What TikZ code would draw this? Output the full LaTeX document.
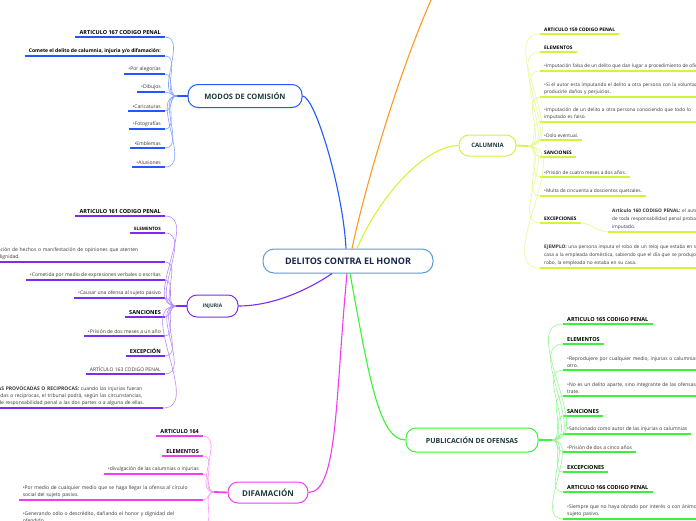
\documentclass[tikz,border=0pt]{standalone}
\usepackage{fontspec}
\setmainfont{Open Sans}
\usepackage{tikz}
\usetikzlibrary{calc}

\definecolor{ramaAzul}{HTML}{2457FF}
\definecolor{ramaMorado}{HTML}{7A2EF5}
\definecolor{ramaMagenta}{HTML}{F23CF2}
\definecolor{ramaVerde}{HTML}{3CF03C}
\definecolor{ramaLima}{HTML}{D2F53C}
\definecolor{ramaNaranja}{HTML}{FF9A1F}
\definecolor{bordeCentro}{HTML}{5B9BD5}
\definecolor{textoNodo}{HTML}{1E3B3B}
\definecolor{textoCentro}{HTML}{17264A}

\tikzset{
  tema/.style={draw=bordeCentro, line width=1pt, fill=white, rounded corners=11pt,
    minimum width=170pt, minimum height=24pt, text=textoCentro,
    font=\bfseries\fontsize{9}{11}\selectfont},
  subtema/.style={draw=#1, line width=1pt, fill=white, rounded corners=10pt, text=textoNodo},
  rama/.style={draw=#1, line width=1.1pt},
  tallo/.style={draw=#1, line width=1.8pt},
  abanico/.style={draw=#1!55!white, line width=0.6pt},
  hoja/.style={inner xsep=4pt, inner ysep=1.8pt, text=black!78,
    font=\fontsize{5}{7}\selectfont,
    append after command={(\tikzlastnode.south west) edge[draw=#1, line width=1.3pt] (\tikzlastnode.south east)}},
  hojaI/.style={hoja=#1, anchor=south east},
  hojaD/.style={hoja=#1, anchor=south west},
  cabeza/.style={text=black, font=\bfseries\fontsize{5.5}{7}\selectfont},
  chica/.style={font=\fontsize{4.8}{7.5}\selectfont},
  chicaN/.style={text=black, font=\bfseries\fontsize{4.8}{7.5}\selectfont},
}

\begin{document}
\begin{tikzpicture}[x=1pt,y=-1pt]
  \useasboundingbox (0,0) rectangle (696,520);
  \clip (0,0) rectangle (696,520);
  \fill[white] (0,0) rectangle (696,520);

  % tema central y subtemas
  \node[tema] (delitos) at (348,261) {DELITOS CONTRA EL HONOR};
  \node[subtema=ramaAzul, minimum width=114pt, minimum height=23pt, font=\bfseries\fontsize{7.5}{9}\selectfont] (modos) at (245,96) {MODOS DE COMISIÓN};
  \node[subtema=ramaMorado, minimum width=51pt, minimum height=22pt, font=\bfseries\fontsize{5}{6}\selectfont] (injuria) at (212.5,306) {INJURIA};
  \node[subtema=ramaLima, minimum width=57pt, minimum height=21pt, font=\bfseries\fontsize{6}{7}\selectfont] (calumnia) at (487.5,145.5) {CALUMNIA};
  \node[subtema=ramaVerde, minimum width=132pt, minimum height=24pt, font=\bfseries\fontsize{7}{9}\selectfont] (publicacion) at (472,440) {PUBLICACIÓN DE OFENSAS};
  \node[subtema=ramaMagenta, minimum width=80pt, minimum height=21pt, font=\bfseries\fontsize{8}{9}\selectfont] (difamacion) at (268,492.5) {DIFAMACIÓN};

  \coordinate (fueraN) at (445,-30);
  \coordinate (hubM) at (177,96);
  \coordinate (hubI) at (176,306);
  \coordinate (hubD) at (214,492);
  \coordinate (hubC) at (528,146);
  \coordinate (hubP) at (552,440);

  % ramas principales
  \draw[rama=ramaAzul] ($(delitos.north)+(-2,0)$) .. controls (343,190) and (315,96) .. (modos.east);
  \draw[rama=ramaNaranja] ($(delitos.north)+(4,0)$) .. controls (362,200) and (400,60) .. (fueraN);
  \draw[rama=ramaLima] ($(delitos.north)+(9,0)$) .. controls (380,195) and (425,146) .. (calumnia.west);
  \draw[rama=ramaMorado] ($(delitos.south)+(-16,0)$) .. controls (305,292) and (270,306) .. (injuria.east);
  \draw[rama=ramaMagenta] ($(delitos.south)+(-1,0)$) .. controls (335,400) and (338,492) .. (difamacion.east);
  \draw[rama=ramaVerde] ($(delitos.south)+(2,0)$) .. controls (368,370) and (378,440) .. (publicacion.west);

  \draw[tallo=ramaAzul] (modos.west) -- (hubM);
  \draw[tallo=ramaMorado] (injuria.west) -- (hubI);
  \draw[tallo=ramaMagenta] (difamacion.west) -- (hubD);
  \draw[tallo=ramaLima] (calumnia.east) -- (hubC);
  \draw[tallo=ramaVerde] (publicacion.east) -- (hubP);

  % modos de comision
  \node[hojaI=ramaAzul, cabeza] (m1) at (165,37) {ARTICULO 167 CODIGO PENAL};
  \node[hojaI=ramaAzul, cabeza, font=\bfseries\fontsize{5}{7}\selectfont] (m2) at (165,56) {Comete el delito de calumnia, injuria y/o difamación:};
  \node[hojaI=ramaAzul] (m3) at (165,74) {•Por alegorías};
  \node[hojaI=ramaAzul] (m4) at (165,92) {•Dibujos};
  \node[hojaI=ramaAzul] (m5) at (165,111) {•Caricaturas};
  \node[hojaI=ramaAzul] (m6) at (165,129) {•Fotografías};
  \node[hojaI=ramaAzul] (m7) at (165,148) {•Emblemas};
  \node[hojaI=ramaAzul] (m8) at (165,167) {•Alusiones};
  \draw[abanico=ramaAzul] (m1.south east) to[out=0,in=180] (hubM);
  \draw[abanico=ramaAzul] (m2.south east) to[out=0,in=180] (hubM);
  \draw[abanico=ramaAzul] (m3.south east) to[out=0,in=180] (hubM);
  \draw[abanico=ramaAzul] (m4.south east) to[out=0,in=180] (hubM);
  \draw[abanico=ramaAzul] (m5.south east) to[out=0,in=180] (hubM);
  \draw[abanico=ramaAzul] (m6.south east) to[out=0,in=180] (hubM);
  \draw[abanico=ramaAzul] (m7.south east) to[out=0,in=180] (hubM);
  \draw[abanico=ramaAzul] (m8.south east) to[out=0,in=180] (hubM);

  % injuria
  \node[hojaI=ramaMorado, cabeza] (i1) at (165,216) {ARTICULO 161 CODIGO PENAL};
  \node[hojaI=ramaMorado, cabeza, font=\bfseries\fontsize{4.5}{6}\selectfont] (i2) at (165,233) {ELEMENTOS};
  \node[hojaI=ramaMorado, text width=185pt, align=left] (i3) at (165,262) {•Manifestación de hechos o manifestación de opiniones que atenten\\ contra la dignidad.};
  \node[hojaI=ramaMorado] (i4) at (165,280) {•Cometida por medio de expresiones verbales o escritas};
  \node[hojaI=ramaMorado] (i5) at (165,298) {•Causar una ofensa al sujeto pasivo};
  \node[hojaI=ramaMorado, cabeza] (i6) at (165,317) {SANCIONES};
  \node[hojaI=ramaMorado] (i7) at (165,336) {•Prisión de dos meses a un año};
  \node[hojaI=ramaMorado, cabeza] (i8) at (165,356) {EXCEPCIÓN};
  \node[hojaI=ramaMorado] (i9) at (165,374) {ARTÍCULO 163 CODIGO PENAL};
  \node[hojaI=ramaMorado, text width=177pt, align=left] (i10) at (163,408) {\textbf{INJURIAS PROVOCADAS O RECIPROCAS:} cuando las injurias fueran\\ provocadas o reciprocas, el tribunal podrá, según las circunstancias,\\ eximir de responsabilidad penal a las dos partes o a alguna de ellas.};
  \draw[abanico=ramaMorado] (i1.south east) to[out=0,in=180] (hubI);
  \draw[abanico=ramaMorado] (i2.south east) to[out=0,in=180] (hubI);
  \draw[abanico=ramaMorado] (i3.south east) to[out=0,in=180] (hubI);
  \draw[abanico=ramaMorado] (i4.south east) to[out=0,in=180] (hubI);
  \draw[abanico=ramaMorado] (i5.south east) to[out=0,in=180] (hubI);
  \draw[abanico=ramaMorado] (i6.south east) to[out=0,in=180] (hubI);
  \draw[abanico=ramaMorado] (i7.south east) to[out=0,in=180] (hubI);
  \draw[abanico=ramaMorado] (i8.south east) to[out=0,in=180] (hubI);
  \draw[abanico=ramaMorado] (i9.south east) to[out=0,in=180] (hubI);
  \draw[abanico=ramaMorado] (i10.south east) to[out=0,in=180] (hubI);

  % difamacion
  \node[hojaI=ramaMagenta, cabeza] (d1) at (203,436) {ARTICULO 164};
  \node[hojaI=ramaMagenta, cabeza] (d2) at (203,456) {ELEMENTOS};
  \node[hojaI=ramaMagenta] (d3) at (203,474) {•divulgación de las calumnias o injurias};
  \node[hojaI=ramaMagenta, text width=176pt, align=left] (d4) at (203,500) {•Por medio de cualquier medio que se haga llegar la ofensa al círculo\\ social del sujeto pasivo.};
  \node[hojaI=ramaMagenta, text width=176pt, align=left] (d5) at (203,525) {•Generando odio o descrédito, dañando el honor y dignidad del\\ ofendido.};
  \draw[abanico=ramaMagenta] (d1.south east) to[out=0,in=180] (hubD);
  \draw[abanico=ramaMagenta] (d2.south east) to[out=0,in=180] (hubD);
  \draw[abanico=ramaMagenta] (d3.south east) to[out=0,in=180] (hubD);
  \draw[abanico=ramaMagenta] (d4.south east) to[out=0,in=180] (hubD);
  \draw[abanico=ramaMagenta] (d5.south east) to[out=0,in=180] (hubD);

  % calumnia
  \node[hojaD=ramaLima, chicaN] (c1) at (540,34) {ARTICULO 159 CODIGO PENAL};
  \node[hojaD=ramaLima, chicaN] (c2) at (540,52) {ELEMENTOS};
  \node[hojaD=ramaLima, chica] (c3) at (540,71) {•Imputación falsa de un delito que dan lugar a procedimiento de oficio.};
  \node[hojaD=ramaLima, chica, text width=200pt, align=left] (c4) at (540,97) {•Si el autor esta imputando el delito a otra persona con la voluntad de\\ producirle daños y perjuicios.};
  \node[hojaD=ramaLima, chica, text width=200pt, align=left] (c5) at (540,122) {•Imputación de un delito a otra persona conociendo que todo lo\\ imputado es falso.};
  \node[hojaD=ramaLima, chica] (c6) at (540,140) {•Dolo eventual.};
  \node[hojaD=ramaLima, chicaN] (c7) at (540,157) {SANCIONES};
  \node[hojaD=ramaLima, chica] (c8) at (540,177) {•Prisión de cuatro meses a dos años.};
  \node[hojaD=ramaLima, chica] (c9) at (540,196) {•Multa de cincuenta a doscientos quetzales.};
  \node[hojaD=ramaLima, chicaN] (c10) at (540,223) {EXCEPCIONES};
  \node[hojaD=ramaLima, font=\fontsize{4.8}{8}\selectfont, text width=200pt, align=left] (c11) at (608,232) {\textbf{Artículo 160 CODIGO PENAL:} el autor de calumnia quedará exento\\ de toda responsabilidad penal probando la veracidad de lo\\ imputado.};
  \node[hojaD=ramaLima, font=\fontsize{4.8}{8}\selectfont, text width=220pt, align=left] (c12) at (540,268) {\textbf{EJEMPLO:} una persona imputa el robo de un reloj que estaba en su\\ casa a la empleada doméstica, sabiendo que el día que se produjo el\\ robo, la empleada no estaba en su casa.};
  \draw[abanico=ramaLima] (c1.south west) to[out=180,in=0] (hubC);
  \draw[abanico=ramaLima] (c2.south west) to[out=180,in=0] (hubC);
  \draw[abanico=ramaLima] (c3.south west) to[out=180,in=0] (hubC);
  \draw[abanico=ramaLima] (c4.south west) to[out=180,in=0] (hubC);
  \draw[abanico=ramaLima] (c5.south west) to[out=180,in=0] (hubC);
  \draw[abanico=ramaLima] (c6.south west) to[out=180,in=0] (hubC);
  \draw[abanico=ramaLima] (c7.south west) to[out=180,in=0] (hubC);
  \draw[abanico=ramaLima] (c8.south west) to[out=180,in=0] (hubC);
  \draw[abanico=ramaLima] (c9.south west) to[out=180,in=0] (hubC);
  \draw[abanico=ramaLima] (c10.south west) to[out=180,in=0] (hubC);
  \draw[abanico=ramaLima] (c12.south west) to[out=180,in=0] (hubC);
  \draw[abanico=ramaLima] (c10.south east) to[out=0,in=180] (c11.south west);

  % publicacion de ofensas
  \node[hojaD=ramaVerde, cabeza] (p1) at (563,324) {ARTICULO 165 CODIGO PENAL};
  \node[hojaD=ramaVerde, cabeza] (p2) at (563,344) {ELEMENTOS};
  \node[hojaD=ramaVerde, text width=200pt, align=left] (p3) at (563,370) {•Reprodujere por cualquier medio, injurias o calumnias inferidas por\\ otro.};
  \node[hojaD=ramaVerde, text width=200pt, align=left] (p4) at (563,396) {•No es un delito aparte, sino integrante de las ofensas de que se\\ trate.};
  \node[hojaD=ramaVerde, cabeza] (p5) at (563,416) {SANCIONES};
  \node[hojaD=ramaVerde] (p6) at (563,434) {•Sancionado como autor de las injurias o calumnias};
  \node[hojaD=ramaVerde] (p7) at (563,452) {•Prisión de dos a cinco años};
  \node[hojaD=ramaVerde, cabeza] (p8) at (563,472) {EXCEPCIONES};
  \node[hojaD=ramaVerde, cabeza] (p9) at (563,492) {ARTICULO 166 CODIGO PENAL};
  \node[hojaD=ramaVerde, text width=200pt, align=left] (p10) at (563,519) {•Siempre que no haya obrado por interés o con ánimo de dañar al\\ sujeto pasivo.};
  \draw[abanico=ramaVerde] (p1.south west) to[out=180,in=0] (hubP);
  \draw[abanico=ramaVerde] (p2.south west) to[out=180,in=0] (hubP);
  \draw[abanico=ramaVerde] (p3.south west) to[out=180,in=0] (hubP);
  \draw[abanico=ramaVerde] (p4.south west) to[out=180,in=0] (hubP);
  \draw[abanico=ramaVerde] (p5.south west) to[out=180,in=0] (hubP);
  \draw[abanico=ramaVerde] (p6.south west) to[out=180,in=0] (hubP);
  \draw[abanico=ramaVerde] (p7.south west) to[out=180,in=0] (hubP);
  \draw[abanico=ramaVerde] (p8.south west) to[out=180,in=0] (hubP);
  \draw[abanico=ramaVerde] (p9.south west) to[out=180,in=0] (hubP);
  \draw[abanico=ramaVerde] (p10.south west) to[out=180,in=0] (hubP);
\end{tikzpicture}
\end{document}
